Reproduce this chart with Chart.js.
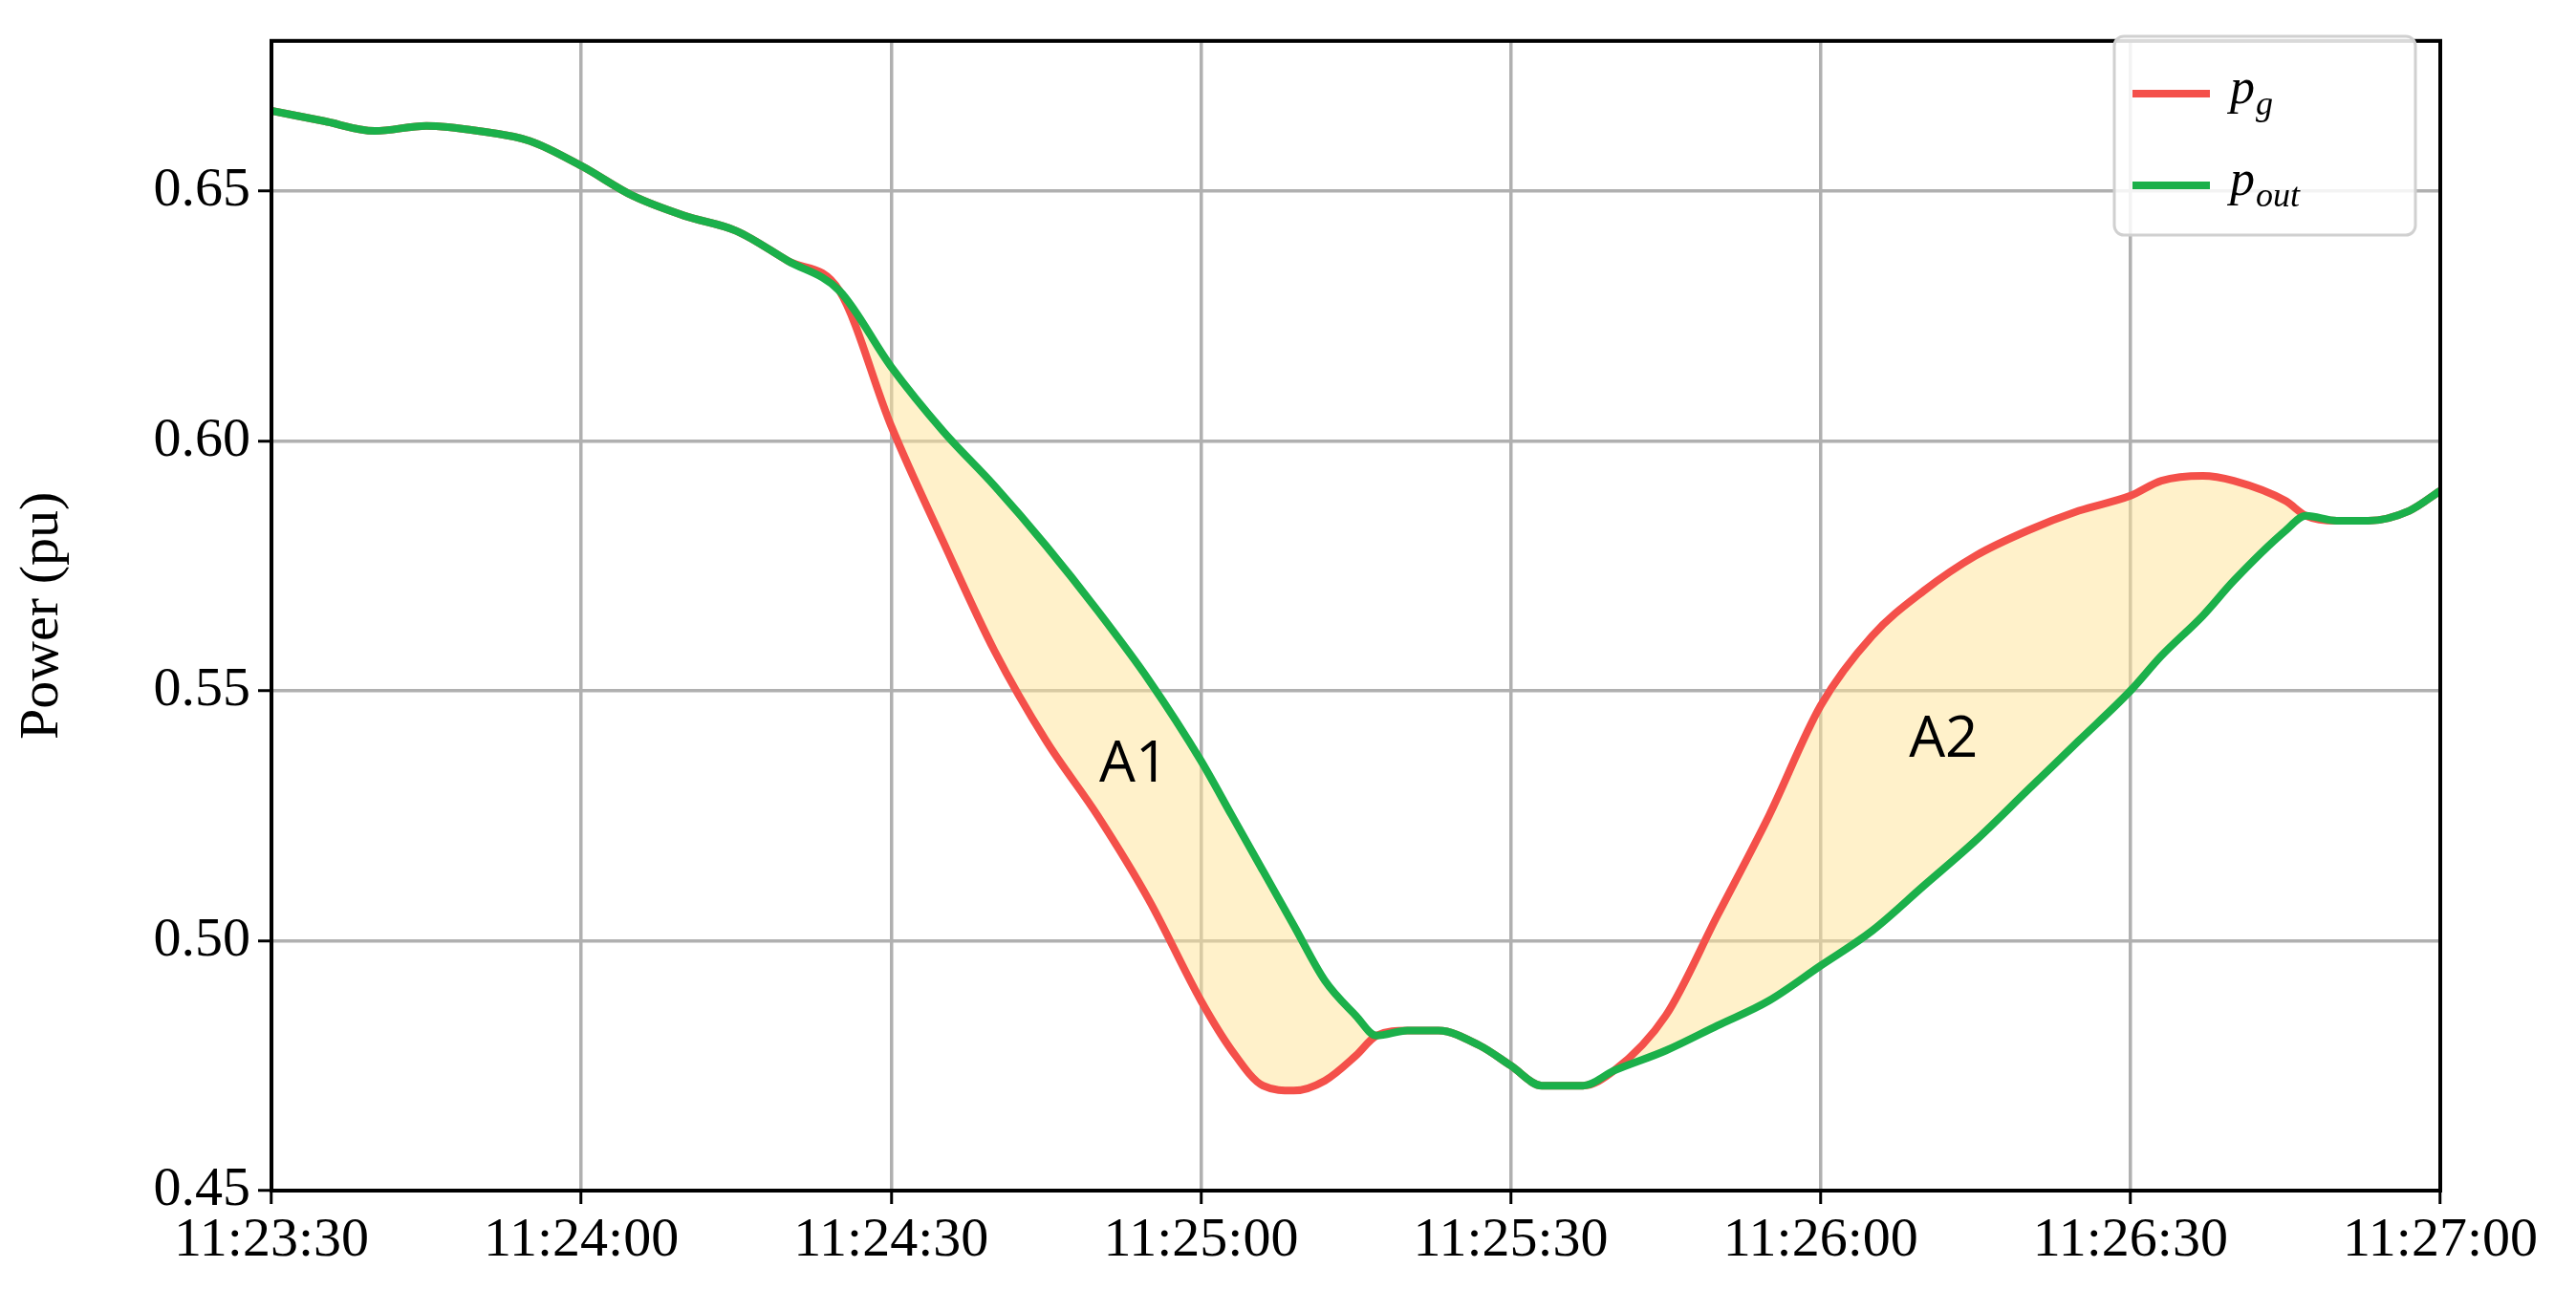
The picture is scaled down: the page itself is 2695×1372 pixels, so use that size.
<!DOCTYPE html>
<html><head><meta charset="utf-8">
<script src="https://cdn.jsdelivr.net/npm/chart.js@4"></script>
<style>html,body{margin:0;padding:0;background:#fff}#w{width:2695px;height:1372px}</style>
</head><body><div id="w"><canvas id="c"></canvas></div>
<script>
const times = [0,5,10,15,20,25,30,35,40,45,50,55,60,65,70,75,80,85,90,93,96,99,102,105,107,110,113,117,120,123,127,130,135,140,145,150,155,160,165,170,175,180,183,187,190,195,197,200,203,207,210];
const pOut = [0.666,0.664,0.662,0.663,0.662,0.660,0.655,0.649,0.645,0.642,0.636,0.630,0.6148,0.602,0.591,0.579,0.566,0.552,0.536,0.525,0.514,0.503,0.492,0.485,0.481,0.482,0.482,0.479,0.475,0.471,0.471,0.474,0.478,0.483,0.488,0.495,0.502,0.511,0.520,0.530,0.540,0.550,0.557,0.565,0.572,0.582,0.585,0.584,0.584,0.586,0.590];
const pG   = [0.666,0.664,0.662,0.663,0.662,0.660,0.655,0.649,0.645,0.642,0.636,0.630,0.603,0.580,0.558,0.540,0.525,0.508,0.488,0.478,0.471,0.470,0.472,0.477,0.481,0.482,0.482,0.479,0.475,0.471,0.471,0.474,0.485,0.505,0.525,0.547,0.561,0.570,0.577,0.582,0.586,0.589,0.592,0.593,0.592,0.588,0.585,0.584,0.584,0.586,0.590];
const yTicks = [0.45,0.50,0.55,0.60,0.65];
const xTickLabels = ['11:23:30','11:24:00','11:24:30','11:25:00','11:25:30','11:26:00','11:26:30','11:27:00'];
const areaLabels = [{t:83.5,v:0.535,text:'A1'},{t:161.9,v:0.540,text:'A2'}];

const RED='#f4504a', GREEN='#1bb04a';
const serif='"Liberation Serif","DejaVu Serif",serif';
const overlay={id:'overlay',afterDraw(ch){
  const c=ch.ctx,x=ch.scales.x,y=ch.scales.y,a=ch.chartArea;
  c.save();
  c.strokeStyle='#000';c.lineWidth=4;c.strokeRect(a.left,a.top,a.right-a.left,a.bottom-a.top);
  c.fillStyle='#000';c.font='60px "Open Sans","Liberation Sans",sans-serif';c.textAlign='center';c.textBaseline='middle';
  areaLabels.forEach(l=>c.fillText(l.text,x.getPixelForValue(l.t),y.getPixelForValue(l.v)));
  c.fillStyle='rgba(255,255,255,0.85)';c.strokeStyle='#d0d0d0';c.lineWidth=3;
  const bx=2212,by=38,bw=315,bh=208,r=10;
  c.beginPath();c.roundRect(bx,by,bw,bh,r);c.fill();c.stroke();
  [[RED,98,'g'],[GREEN,194,'out']].forEach(([col,ly,sub])=>{
    c.strokeStyle=col;c.lineWidth=8;c.beginPath();c.moveTo(2231,ly);c.lineTo(2312,ly);c.stroke();
    c.fillStyle='#000';c.textAlign='left';c.textBaseline='alphabetic';
    c.font='italic 52px '+serif;c.fillText('p',2333,ly+10);
    c.font='italic 36px '+serif;c.fillText(sub,2360,ly+22);
  });
  c.restore();
}};
new Chart(document.getElementById('c'),{
  type:'line',
  data:{datasets:[
    {label:'pout',order:0,data:times.map((t,i)=>({x:t,y:pOut[i]})),borderColor:GREEN,borderWidth:8,pointRadius:0,cubicInterpolationMode:'monotone',fill:false},
    {label:'pg',order:1,data:times.map((t,i)=>({x:t,y:pG[i]})),borderColor:RED,borderWidth:8,pointRadius:0,cubicInterpolationMode:'monotone',fill:{target:0},backgroundColor:'rgba(255,228,150,0.5)'}
  ]},
  plugins:[overlay],
  options:{responsive:true,maintainAspectRatio:false,animation:false,
    layout:{padding:{left:0,top:21,right:142,bottom:0}},
    plugins:{legend:{display:false},tooltip:{enabled:false}},
    scales:{
      x:{type:'linear',min:0,max:210,
        afterBuildTicks:s=>{s.ticks=xTickLabels.map((_,i)=>({value:i*30}));},
        afterFit:s=>{s.height=126;},
        ticks:{callback:(v)=>xTickLabels[Math.round(v/30)],color:'#000',font:{family:serif,size:58},maxRotation:0,padding:4},
        grid:{color:'#b0b0b0',lineWidth:3.5,tickColor:'#000',tickLength:14,tickWidth:3},
        border:{color:'#000',width:4}},
      y:{min:0.45,max:0.68,
        afterBuildTicks:s=>{s.ticks=yTicks.map(v=>({value:v}));},
        afterFit:s=>{s.width=284;},
        ticks:{callback:v=>v.toFixed(2),color:'#000',font:{family:serif,size:58},padding:8},
        title:{display:true,text:'Power (pu)',color:'#000',font:{family:serif,size:58},padding:{top:10,bottom:0}},
        grid:{color:'#b0b0b0',lineWidth:3.5,tickColor:'#000',tickLength:14,tickWidth:3},
        border:{color:'#000',width:4}}
    }}
});
</script></body></html>
